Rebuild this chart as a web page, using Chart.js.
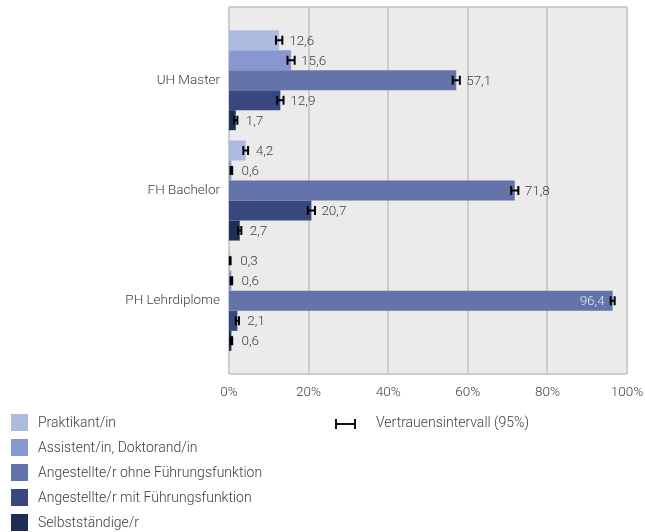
<!DOCTYPE html>
<html lang="de">
    <head>
        <meta charset="UTF-8">
        <title>Berufliche Stellung</title>
        <script src="https://cdn.jsdelivr.net/npm/chart.js"></script>
        <style>
            body, html {
                margin: 0;
                padding: 0;
                background: #fff;
            }
            #wrap {
                position: relative;
                width: 645px;
                height: 532px;
                font-family: Roboto, sans-serif;
                font-weight: 300;
                color: #404040;
                font-size: 14px;
            }
            #chart {
                position: absolute;
                left: 0;
                top: 0;
            }
            .leg {
                position: absolute;
                left: 11px;
                height: 17px;
                line-height: 17px;
                white-space: nowrap;
            }
            .leg span.box {
                display: inline-block;
                width: 17px;
                height: 17px;
                vertical-align: top;
                margin-right: 10px;
            }
            #ciLegend {
                position: absolute;
                left: 335px;
                top: 414px;
                line-height: 17px;
                white-space: nowrap;
            }
            #ciLegend span.ci {
                display: inline-block;
                position: relative;
                width: 21px;
                height: 17px;
                vertical-align: top;
                margin-right: 20px;
            }
        </style>
    </head>
    <body>
        <div id="wrap">
            <canvas id="chart" width="645" height="532"></canvas>
            <div id="legend"></div>
            <div id="ciLegend"><span class="ci"></span>Vertrauensintervall (95%)</div>
        </div>

        <script>
            // data
            const categories = ['UH Master', 'FH Bachelor', 'PH Lehrdiplome'];
            const seriesNames = ['Praktikant/in', 'Assistent/in, Doktorand/in', 'Angestellte/r ohne Führungsfunktion', 'Angestellte/r mit Führungsfunktion', 'Selbstständige/r'];
            const seriesColors = ['#adbbe1', '#8797cf', '#6473a9', '#38487f', '#1f2e56'];
            const praktikant = [12.6, 4.2, 0.3];
            const assistent = [15.6, 0.6, 0.6];
            const ohneFuehrung = [57.1, 71.8, 96.4];
            const mitFuehrung = [12.9, 20.7, 2.1];
            const selbststaendig = [1.7, 2.7, 0.6];
            // half width of the 95% confidence interval
            const ciPraktikant = [0.8, 0.6, 0.1];
            const ciAssistent = [0.9, 0.2, 0.2];
            const ciOhne = [0.9, 0.9, 0.5];
            const ciMit = [0.8, 0.9, 0.4];
            const ciSelbst = [0.4, 0.4, 0.2];
            const xTicks = [0, 20, 40, 60, 80, 100];

            const values = [praktikant, assistent, ohneFuehrung, mitFuehrung, selbststaendig];
            const cis = [ciPraktikant, ciAssistent, ciOhne, ciMit, ciSelbst];

            const textColor = '#404040';
            const gridColor = '#cccccc';
            const labelFont = { family: 'Roboto', size: 13.5, weight: '300' };

            // legend (html)
            const legendEl = document.getElementById('legend');
            seriesNames.forEach((name, i) => {
                const d = document.createElement('div');
                d.className = 'leg';
                d.style.top = (414 + i * 25) + 'px';
                d.innerHTML = '<span class="box" style="background:' + seriesColors[i] + '"></span>' + name;
                legendEl.appendChild(d);
            });

            // little error bar symbol for the ci legend
            const ciSym = document.querySelector('#ciLegend span.ci');
            ciSym.innerHTML =
                '<span style="position:absolute;left:0;top:9px;width:21px;height:2px;background:#111"></span>' +
                '<span style="position:absolute;left:0;top:5px;width:2px;height:10px;background:#111"></span>' +
                '<span style="position:absolute;left:19px;top:5px;width:2px;height:10px;background:#111"></span>';

            // background, frame and grid lines drawn with the x scale
            const plotBackground = {
                id: 'plotBackground',
                beforeDatasetsDraw(chart) {
                    const { ctx, chartArea } = chart;
                    const xs = chart.scales.x;
                    const top = chartArea.top - 18;
                    const bottom = chartArea.bottom + 18;
                    ctx.save();
                    ctx.fillStyle = '#ebebeb';
                    ctx.fillRect(chartArea.left, top, chartArea.right - chartArea.left, bottom - top);
                    ctx.strokeStyle = gridColor;
                    ctx.lineWidth = 2;
                    xTicks.forEach(v => {
                        const x = Math.round(xs.getPixelForValue(v));
                        ctx.beginPath();
                        ctx.moveTo(x, top);
                        ctx.lineTo(x, bottom);
                        ctx.stroke();
                    });
                    ctx.beginPath();
                    ctx.moveTo(chartArea.left, top);
                    ctx.lineTo(chartArea.right, top);
                    ctx.moveTo(chartArea.left, bottom);
                    ctx.lineTo(chartArea.right, bottom);
                    ctx.stroke();
                    ctx.restore();
                }
            };

            // confidence intervals and value labels
            const errorBarsAndLabels = {
                id: 'errorBarsAndLabels',
                afterDatasetsDraw(chart) {
                    const { ctx, chartArea } = chart;
                    const xs = chart.scales.x;
                    ctx.save();
                    ctx.font = '300 13.5px Roboto, sans-serif';
                    ctx.textBaseline = 'middle';
                    chart.data.datasets.forEach((ds, di) => {
                        const meta = chart.getDatasetMeta(di);
                        meta.data.forEach((bar, i) => {
                            const v = ds.data[i];
                            const h = cis[di][i];
                            const x0 = xs.getPixelForValue(v - h);
                            const x1 = xs.getPixelForValue(v + h);
                            const y = bar.y;
                            ctx.strokeStyle = '#000';
                            ctx.lineWidth = 2;
                            ctx.beginPath();
                            ctx.moveTo(x0, y);
                            ctx.lineTo(x1, y);
                            ctx.moveTo(x0, y - 4.5);
                            ctx.lineTo(x0, y + 4.5);
                            ctx.moveTo(x1, y - 4.5);
                            ctx.lineTo(x1, y + 4.5);
                            ctx.stroke();

                            const label = v.toFixed(1).replace('.', ',');
                            const w = ctx.measureText(label).width;
                            let lx = bar.x + 10;
                            if (lx + w > chartArea.right - 2) {
                                ctx.fillStyle = '#e4e7f1';
                                ctx.textAlign = 'right';
                                lx = x0 - 6;
                            } else {
                                ctx.fillStyle = textColor;
                                ctx.textAlign = 'left';
                            }
                            ctx.fillText(label, lx, y + 1);
                        });
                    });
                    ctx.restore();
                }
            };

            const ctx = document.getElementById('chart').getContext('2d');
            new Chart(ctx, {
                type: 'bar',
                data: {
                    labels: categories,
                    datasets: seriesNames.map((name, i) => ({
                        label: name,
                        data: values[i],
                        backgroundColor: seriesColors[i],
                        borderWidth: 0,
                        categoryPercentage: 0.907,
                        barPercentage: 1
                    }))
                },
                options: {
                    indexAxis: 'y',
                    responsive: false,
                    animation: false,
                    layout: {
                        padding: { top: 25, right: 18, bottom: 126, left: 0 }
                    },
                    plugins: {
                        legend: { display: false },
                        tooltip: { enabled: false }
                    },
                    scales: {
                        x: {
                            min: 0,
                            max: 100,
                            afterFit: s => {
                                s.height = 50;
                                s.paddingLeft = 0;
                                s.paddingRight = 0;
                            },
                            grid: { display: false },
                            border: { display: false },
                            ticks: {
                                stepSize: 20,
                                padding: 21,
                                color: textColor,
                                font: labelFont,
                                callback: v => v + '%'
                            }
                        },
                        y: {
                            afterFit: s => { s.width = 229; },
                            grid: { display: false, drawTicks: false },
                            border: { display: false },
                            ticks: {
                                padding: 9,
                                color: textColor,
                                font: labelFont
                            }
                        }
                    }
                },
                plugins: [plotBackground, errorBarsAndLabels]
            });
        </script>
    </body>
</html>
